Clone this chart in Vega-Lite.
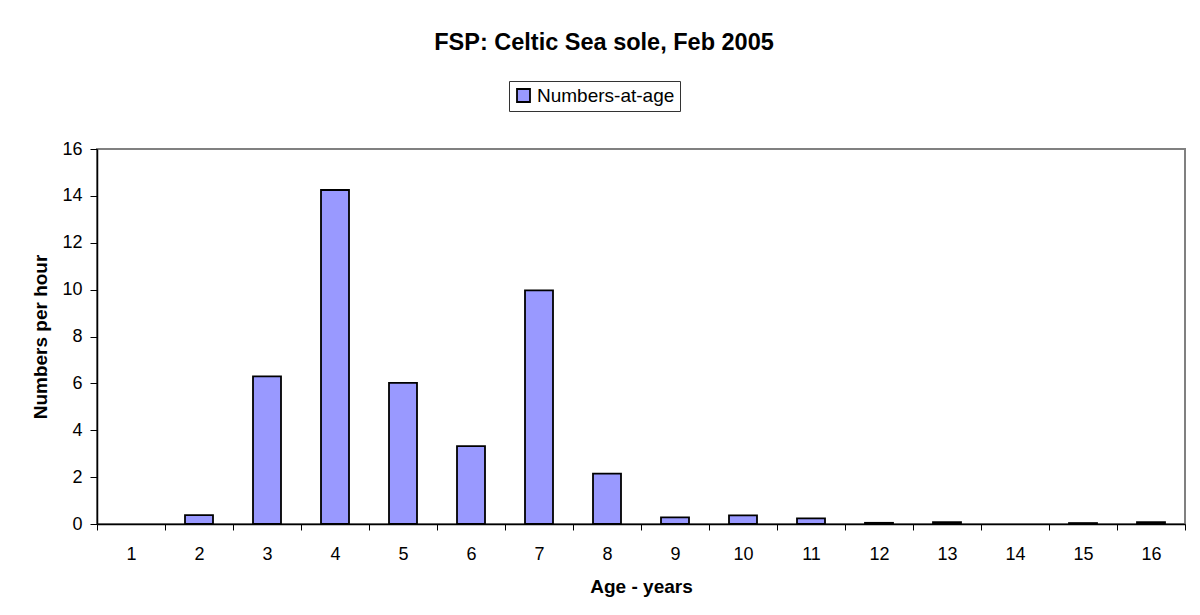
{
  "$schema": "https://vega.github.io/schema/vega-lite/v6.json",
  "width": 1088,
  "height": 375,
  "autosize": "none",
  "padding": {"left": 97, "top": 149, "right": 15, "bottom": 91},
  "background": "white",
  "title": {
    "text": "FSP: Celtic Sea sole, Feb 2005",
    "font": "Liberation Sans",
    "fontSize": 23.5,
    "fontWeight": "bold",
    "color": "black",
    "anchor": "middle",
    "frame": "group",
    "dx": -37,
    "offset": 26
  },
  "data": {
    "values": [
      {"age": 1, "value": null, "series": "Numbers-at-age"},
      {"age": 2, "value": 0.38, "series": "Numbers-at-age"},
      {"age": 3, "value": 6.3, "series": "Numbers-at-age"},
      {"age": 4, "value": 14.25, "series": "Numbers-at-age"},
      {"age": 5, "value": 6.02, "series": "Numbers-at-age"},
      {"age": 6, "value": 3.32, "series": "Numbers-at-age"},
      {"age": 7, "value": 9.97, "series": "Numbers-at-age"},
      {"age": 8, "value": 2.15, "series": "Numbers-at-age"},
      {"age": 9, "value": 0.28, "series": "Numbers-at-age"},
      {"age": 10, "value": 0.37, "series": "Numbers-at-age"},
      {"age": 11, "value": 0.24, "series": "Numbers-at-age"},
      {"age": 12, "value": 0.05, "series": "Numbers-at-age"},
      {"age": 13, "value": 0.08, "series": "Numbers-at-age"},
      {"age": 14, "value": null, "series": "Numbers-at-age"},
      {"age": 15, "value": 0.04, "series": "Numbers-at-age"},
      {"age": 16, "value": 0.08, "series": "Numbers-at-age"}
    ]
  },
  "mark": {"type": "bar", "width": 28, "stroke": "black", "strokeWidth": 1.8},
  "encoding": {
    "x": {
      "field": "age",
      "type": "ordinal",
      "scale": {"domain": [1,2,3,4,5,6,7,8,9,10,11,12,13,14,15,16], "paddingInner": 0, "paddingOuter": 0},
      "axis": {
        "title": "Age - years",
        "labelAngle": 0,
        "tickBand": "extent",
        "tickSize": 6,
        "labelPadding": 15,
        "titlePadding": 14
      }
    },
    "y": {
      "field": "value",
      "type": "quantitative",
      "scale": {"domain": [0, 16], "nice": false},
      "axis": {
        "title": "Numbers per hour",
        "values": [0, 2, 4, 6, 8, 10, 12, 14, 16],
        "grid": false,
        "tickSize": 7,
        "labelPadding": 8,
        "titlePadding": 11
      }
    },
    "color": {
      "field": "series",
      "type": "nominal",
      "scale": {"range": ["#9999FF"]},
      "legend": {
        "title": null,
        "orient": "none",
        "legendX": 412,
        "legendY": -68,
        "symbolType": "square",
        "symbolSize": 169,
        "symbolStrokeColor": "black",
        "symbolStrokeWidth": 1.8,
        "symbolOpacity": 1,
        "labelFont": "Liberation Sans",
        "labelFontSize": 19,
        "labelColor": "black",
        "strokeColor": "#333333",
        "padding": 5,
        "labelOffset": 4
      }
    }
  },
  "config": {
    "view": {"stroke": "#808080", "strokeWidth": 2},
    "axis": {
      "labelFont": "Liberation Sans",
      "labelFontSize": 18,
      "labelColor": "black",
      "titleFont": "Liberation Sans",
      "titleFontSize": 19,
      "titleFontWeight": "bold",
      "titleColor": "black",
      "domainColor": "black",
      "domainWidth": 1.5,
      "tickColor": "black",
      "tickWidth": 1
    }
  }
}
